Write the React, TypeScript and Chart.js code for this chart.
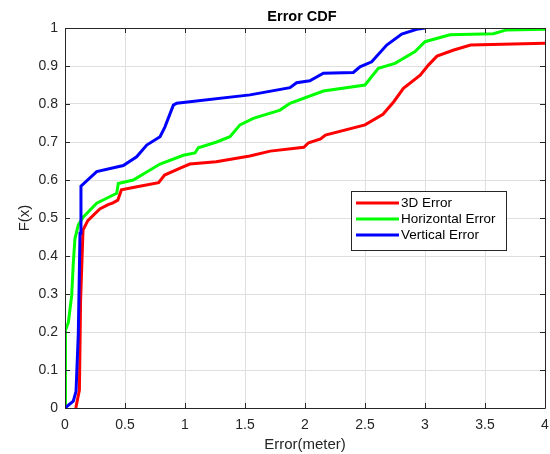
import React, { useEffect, useRef } from 'react';
import { Chart, registerables } from 'chart.js';

Chart.register(...registerables);

const titleText = 'Error CDF';
const xTitle = 'Error(meter)';
const yTitle = 'F(x)';
const seriesNames = ['3D Error', 'Horizontal Error', 'Vertical Error'];
const seriesColors = ['#ff0000', '#00ff00', '#0000ff'];

const redX = [0.09, 0.12, 0.13, 0.15, 0.19, 0.29, 0.36, 0.40, 0.44, 0.47, 0.60, 0.78, 0.83, 0.96, 1.04, 1.26, 1.54, 1.71, 1.99, 2.03, 2.13, 2.17, 2.50, 2.65, 2.74, 2.82, 2.96, 3.03, 3.10, 3.24, 3.38, 4.0];
const redY = [0, 0.047, 0.284, 0.468, 0.493, 0.524, 0.535, 0.540, 0.547, 0.574, 0.582, 0.593, 0.613, 0.631, 0.642, 0.648, 0.663, 0.676, 0.686, 0.698, 0.708, 0.718, 0.745, 0.773, 0.806, 0.841, 0.876, 0.903, 0.926, 0.942, 0.955, 0.960];

const greenX = [0, 0.0, 0.008, 0.028, 0.056, 0.069, 0.083, 0.111, 0.153, 0.264, 0.347, 0.431, 0.444, 0.569, 0.792, 0.986, 1.083, 1.111, 1.264, 1.375, 1.458, 1.569, 1.792, 1.875, 2.153, 2.5, 2.611, 2.75, 2.917, 3.0, 3.208, 3.569, 3.68, 4.0];
const greenY = [0, 0.047, 0.205, 0.225, 0.297, 0.381, 0.446, 0.482, 0.503, 0.539, 0.552, 0.565, 0.591, 0.600, 0.642, 0.665, 0.671, 0.685, 0.700, 0.714, 0.745, 0.762, 0.784, 0.802, 0.834, 0.850, 0.894, 0.907, 0.938, 0.964, 0.982, 0.985, 0.995, 0.997];

const blueX = [0, 0.069, 0.092, 0.111, 0.125, 0.133, 0.133, 0.264, 0.486, 0.597, 0.681, 0.792, 0.833, 0.903, 0.931, 1.542, 1.875, 1.93, 2.04, 2.153, 2.403, 2.458, 2.556, 2.681, 2.806, 2.93, 3.0];
const blueY = [0, 0.018, 0.044, 0.196, 0.460, 0.50, 0.584, 0.622, 0.638, 0.661, 0.692, 0.714, 0.740, 0.797, 0.802, 0.824, 0.843, 0.856, 0.861, 0.881, 0.883, 0.898, 0.911, 0.955, 0.984, 0.9965, 1.0];

const xTicks = [0, 0.5, 1, 1.5, 2, 2.5, 3, 3.5, 4];
const yTicks = [0, 0.1, 0.2, 0.3, 0.4, 0.5, 0.6, 0.7, 0.8, 0.9, 1];

const FONT = '"Liberation Sans", Arial, sans-serif';
const AX = '#262626';

const pairs = (xs: number[], ys: number[]) => xs.map((x, i) => ({ x, y: ys[i] }));

const boxPlugin = {
  id: 'boxPlugin',
  afterDatasetsDraw(chart: any) {
    const { ctx, chartArea: a, scales } = chart;
    ctx.save();
    ctx.strokeStyle = AX;
    ctx.lineWidth = 1;
    ctx.beginPath();
    ctx.rect(Math.round(a.left) + 0.5, Math.round(a.top) + 0.5, Math.round(a.right - a.left), Math.round(a.bottom - a.top));
    ctx.stroke();
    const tl = 5;
    ctx.beginPath();
    xTicks.forEach((v) => {
      const px = Math.round(scales.x.getPixelForValue(v)) + 0.5;
      ctx.moveTo(px, a.bottom);
      ctx.lineTo(px, a.bottom - tl);
      ctx.moveTo(px, a.top);
      ctx.lineTo(px, a.top + tl);
    });
    yTicks.forEach((v) => {
      const py = Math.round(scales.y.getPixelForValue(v)) + 0.5;
      ctx.moveTo(a.left, py);
      ctx.lineTo(a.left + tl, py);
      ctx.moveTo(a.right, py);
      ctx.lineTo(a.right - tl, py);
    });
    ctx.stroke();

    // title
    ctx.fillStyle = '#000';
    ctx.font = `bold 14.5px ${FONT}`;
    ctx.textAlign = 'center';
    ctx.textBaseline = 'middle';
    ctx.fillText(titleText, 302, 16.5);

    // legend
    const bx = 351, by = 191, bw = 155, bh = 59;
    ctx.fillStyle = '#fff';
    ctx.fillRect(bx, by, bw, bh);
    ctx.strokeStyle = AX;
    ctx.lineWidth = 1;
    ctx.strokeRect(bx + 0.5, by + 0.5, bw, bh);
    ctx.font = `13.5px ${FONT}`;
    ctx.textAlign = 'left';
    ctx.textBaseline = 'middle';
    chart.data.datasets.forEach((ds: any, i: number) => {
      const y = by + 12 + i * 16;
      ctx.strokeStyle = ds.borderColor;
      ctx.lineWidth = 3;
      ctx.beginPath();
      ctx.moveTo(bx + 5, y);
      ctx.lineTo(bx + 48, y);
      ctx.stroke();
      ctx.fillStyle = '#000';
      ctx.fillText(ds.label, bx + 50, y);
    });
    ctx.restore();
  },
};

export default function App() {
  const ref = useRef<HTMLCanvasElement>(null);
  useEffect(() => {
    if (!ref.current) return;
    const data = [pairs(redX, redY), pairs(greenX, greenY), pairs(blueX, blueY)];
    const chart = new Chart(ref.current, {
      type: 'line',
      data: {
        datasets: data.map((d, i) => ({
          label: seriesNames[i],
          data: d,
          borderColor: seriesColors[i],
          backgroundColor: seriesColors[i],
          borderWidth: 3,
          pointRadius: 0,
          tension: 0,
          fill: false,
          order: 2 - i,
        })),
      },
      options: {
        animation: false,
        responsive: false,
        devicePixelRatio: 1,
        parsing: false as any,
        layout: { padding: { top: 28, right: 5, left: 0, bottom: 0 } },
        plugins: { legend: { display: false }, tooltip: { enabled: false }, title: { display: false } },
        scales: {
          x: {
            type: 'linear',
            min: 0,
            max: 4,
            afterBuildTicks: (s: any) => { s.ticks = xTicks.map((v) => ({ value: v })); },
            afterFit: (s: any) => { s.height = 46; s.paddingLeft = 0; s.paddingRight = 0; },
            ticks: {
              color: AX,
              font: { family: FONT, size: 14 },
              padding: 9,
              maxRotation: 0,
              callback: (v: any) => String(Number(Number(v).toFixed(1))),
            },
            grid: { color: '#dfdfdf', drawTicks: false },
            border: { display: false },
            title: { display: true, text: xTitle, color: AX, font: { family: FONT, size: 15 }, padding: 0 },
          },
          y: {
            type: 'linear',
            min: 0,
            max: 1,
            afterBuildTicks: (s: any) => { s.ticks = yTicks.map((v) => ({ value: v })); },
            afterFit: (s: any) => { s.width = 65; s.paddingTop = 0; s.paddingBottom = 0; },
            ticks: {
              color: AX,
              font: { family: FONT, size: 14 },
              padding: 7,
              callback: (v: any) => String(Number(Number(v).toFixed(1))),
            },
            grid: { color: '#dfdfdf', drawTicks: false },
            border: { display: false },
            title: { display: true, text: yTitle, color: AX, font: { family: FONT, size: 15 }, padding: 16 },
          },
        },
      },
      plugins: [boxPlugin],
    } as any);
    return () => chart.destroy();
  }, []);
  return (
    <div style={{ position: 'absolute', left: 0, top: 0, width: 550, height: 454, background: '#fff' }}>
      <canvas ref={ref} width={550} height={454} style={{ width: 550, height: 454, display: 'block' }} />
    </div>
  );
}
